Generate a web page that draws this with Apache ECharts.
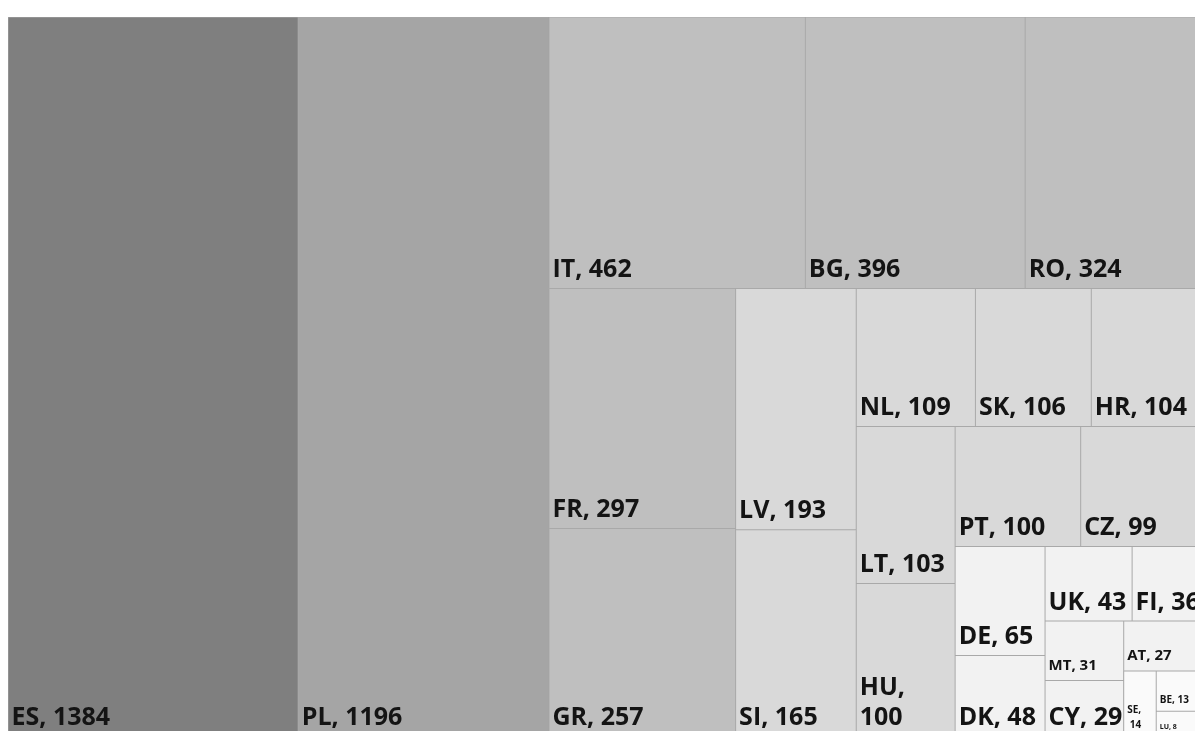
<!DOCTYPE html>
<html>
<head>
<meta charset="utf-8">
<script src="https://cdn.jsdelivr.net/npm/echarts@6/dist/echarts.min.js"></script>
<style>
  html, body { margin: 0; padding: 0; background: #ffffff; }
  #chart { width: 1195px; height: 731px; }
</style>
</head>
<body>
<div id="chart"></div>
<script>
// Country codes and their counts, largest first
const countries = ['ES', 'PL', 'IT', 'BG', 'RO', 'FR', 'GR', 'LV', 'SI', 'NL', 'SK', 'HR', 'LT',
                   'HU', 'PT', 'CZ', 'DE', 'DK', 'UK', 'FI', 'MT', 'CY', 'AT', 'SE', 'BE', 'LU'];
const values = [1384, 1196, 462, 396, 324, 297, 257, 193, 165, 109, 106, 104, 103,
                100, 100, 99, 65, 48, 43, 36, 31, 29, 27, 14, 13, 8];
// How many consecutive tiles share one strip of the treemap
const stripSizes = [1, 1, 3, 2, 2, 3, 2, 2, 2, 2, 2, 1, 1, 2];

// Grey shade for each value band
const shadeFloors = [1300, 1000, 250, 95, 25, 0];
const shades = ['#7f7f7f', '#a5a5a5', '#bfbfbf', '#d9d9d9', '#f2f2f2', '#fafafa'];
function shadeOf(v) {
  for (let i = 0; i < shadeFloors.length; i++) if (v >= shadeFloors[i]) return shades[i];
  return shades[shades.length - 1];
}

// Smaller type for the narrow tiles, extra right padding where the label wraps
const smallLabelSize = { MT: 15, AT: 15, SE: 10, BE: 10, LU: 7 };
const wrapPadding = { HU: 14, SE: 6 };

function leaf(i) {
  const name = countries[i];
  const size = smallLabelSize[name] || 25;
  return {
    name: name,
    value: values[i],
    itemStyle: { color: shadeOf(values[i]), borderWidth: 0.5, borderColor: '#a9a9a9' },
    label: {
      fontSize: size,
      lineHeight: size >= 20 ? 30 : Math.round(size * 1.5),
      padding: [0, wrapPadding[name] || 0, 3, 3]
    }
  };
}

// Each strip takes the near edge of the space still free; the rest fills what remains
function buildTree() {
  const strips = [];
  let k = 0;
  stripSizes.forEach(function (n) {
    const items = [];
    for (let j = 0; j < n; j++) items.push(leaf(k++));
    strips.push(items.length === 1 ? items[0] : { name: '', children: items });
  });
  let node = strips[strips.length - 1];
  for (let i = strips.length - 2; i >= 0; i--) {
    node = { name: '', children: [strips[i], node] };
  }
  return node.children;
}

const chart = echarts.init(document.getElementById('chart'), null, { renderer: 'canvas' });
chart.setOption({
  animation: false,
  tooltip: { show: false },
  series: [{
    type: 'treemap',
    left: 8,
    top: 17,
    width: 1197,
    height: 719,
    sort: false,
    squareRatio: 1,
    roam: false,
    nodeClick: false,
    silent: true,
    visibleMin: 0,
    breadcrumb: { show: false },
    itemStyle: { borderWidth: 0, gapWidth: 0, borderColor: '#a9a9a9' },
    upperLabel: { show: false },
    label: {
      show: true,
      position: 'insideBottomLeft',
      distance: 0,
      formatter: '{b}, {c}',
      color: '#141414',
      fontFamily: 'Open Sans',
      fontWeight: 'bold',
      fontSize: 25,
      lineHeight: 30,
      overflow: 'break'
    },
    data: buildTree()
  }]
});
</script>
</body>
</html>
